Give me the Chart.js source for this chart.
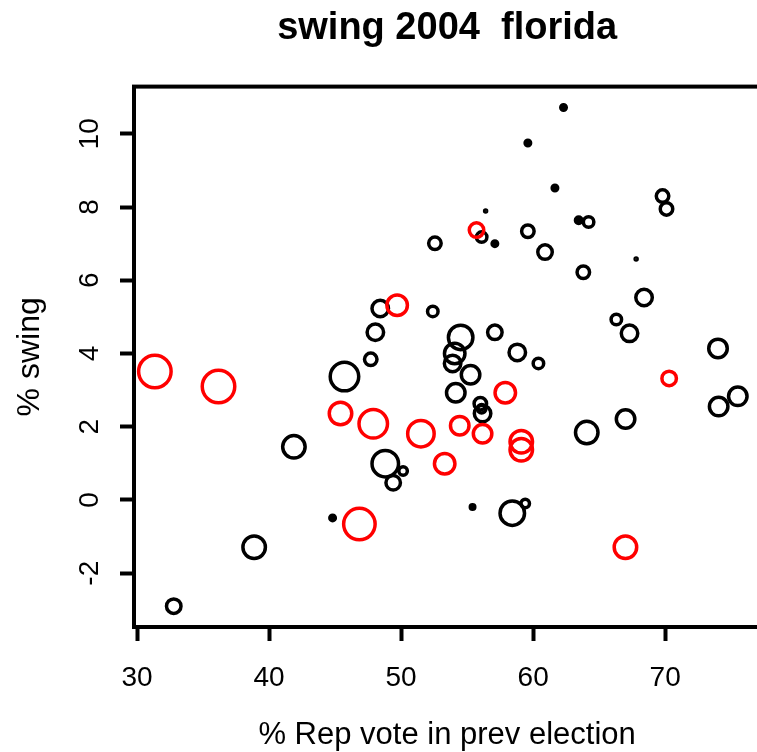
<!DOCTYPE html>
<html>
<head>
<meta charset="utf-8">
<title>swing 2004 florida</title>
<script src="https://cdn.jsdelivr.net/npm/chart.js@4.4.1/dist/chart.umd.min.js"></script>
<style>
  html, body { margin: 0; padding: 0; background: #fff; overflow: hidden; }
</style>
</head>
<body>
<canvas id="chart" width="780" height="752"></canvas>
<script>
// counties, black group: % Rep vote in previous election, % swing, relative county size
const blackVote = [62.3, 59.6, 61.65, 69.8, 70.1, 56.4, 56.1, 57.1, 59.6, 60.9, 63.45, 64.2, 63.8, 67.8,
  68.4, 66.3, 67.3, 74.0, 74.05, 75.5, 67.0, 64.06, 57.1, 58.8, 60.4, 52.56, 52.4, 48.42, 48.05, 47.7,
  45.71, 41.88, 48.8, 50.15, 49.4, 44.81, 38.87, 32.78, 55.41, 58.42, 59.4,
  54.51, 54.06, 53.9, 55.26, 54.14, 56.0, 56.17, 56.1];
const blackSwing = [10.72, 9.75, 8.52, 8.3, 7.95, 7.89, 7.18, 7.0, 7.34, 6.77, 7.64, 7.59, 6.22, 6.58,
  5.53, 4.93, 4.55, 4.14, 2.55, 2.83, 2.21, 1.84, 4.58, 4.03, 3.73, 7.01, 5.15, 5.23, 4.58, 3.84,
  3.37, 1.45, 0.99, 0.79, 0.47, -0.49, -1.29, -2.9, -0.19, -0.36, -0.1,
  4.44, 4.0, 3.73, 3.42, 2.93, 2.63, 2.36, 2.49];
const blackSize = [4.5, 4.5, 4.5, 8, 8, 2.5, 7, 4.5, 8, 9, 5, 7, 8, 2.5,
  10, 7, 10, 11, 11, 11, 11, 13, 9, 10, 7, 8, 7, 10, 10, 8,
  16, 13, 15, 6, 9, 4.5, 13, 9, 4, 14, 6,
  14, 12, 10, 11, 11, 8, 10, 6];

// counties, red group
const redVote = [31.35, 36.17, 45.41, 47.89, 51.5, 53.3, 49.7, 55.71, 70.3, 57.89, 54.44, 56.17, 59.1, 59.1, 46.84, 66.99];
const redSwing = [3.51, 3.1, 2.36, 2.08, 1.81, 0.99, 5.32, 7.37, 3.32, 2.93, 2.03, 1.81, 1.59, 1.37, -0.66, -1.29];
const redSize = [18, 18, 13, 16, 15, 12, 12, 9, 9, 12, 11, 11, 13, 13, 17.5, 13];

const xTicks = [30, 40, 50, 60, 70];
const yTicks = [-2, 0, 2, 4, 6, 8, 10];

const FONT = '"Liberation Sans", Arial, sans-serif';
const LINE = 3.5;

const toPoints = (xs, ys) => xs.map((x, i) => ({ x, y: ys[i] }));

// tiny counties close up into solid dots, like the original
const ringFill = (sizes, color) => ctx => (sizes[ctx.dataIndex] <= 5 ? color : 'rgba(0,0,0,0)');

const boxPlugin = {
  id: 'box',
  afterDraw(chart) {
    const { ctx, chartArea: a } = chart;
    ctx.save();
    ctx.strokeStyle = '#000';
    ctx.lineWidth = 4;
    ctx.strokeRect(a.left, a.top, a.right - a.left, a.bottom - a.top);
    ctx.restore();
  }
};

new Chart(document.getElementById('chart'), {
  type: 'scatter',
  data: {
    datasets: [
      {
        label: 'red',
        data: toPoints(redVote, redSwing),
        borderColor: '#ff0000',
        backgroundColor: ringFill(redSize, '#ff0000'),
        borderWidth: LINE,
        pointRadius: ctx => Math.max(1, redSize[ctx.dataIndex] - LINE / 2)
      },
      {
        label: 'black',
        data: toPoints(blackVote, blackSwing),
        borderColor: '#000000',
        backgroundColor: ringFill(blackSize, '#000000'),
        borderWidth: LINE,
        pointRadius: ctx => Math.max(1, blackSize[ctx.dataIndex] - LINE / 2)
      }
    ]
  },
  options: {
    responsive: false,
    animation: false,
    layout: { padding: { left: 0, right: 15, top: 0, bottom: 0 } },
    plugins: {
      legend: { display: false },
      tooltip: { enabled: false },
      title: {
        display: true,
        text: 'swing 2004  florida',
        fullSize: false,
        color: '#000',
        font: { family: FONT, size: 38, weight: 'bold', lineHeight: 1.2 },
        padding: { top: 6, bottom: 35 }
      }
    },
    scales: {
      x: {
        type: 'linear',
        min: 29.77,
        max: 77.2,
        afterFit: s => { s.height = 125; },
        afterBuildTicks: s => { s.ticks = xTicks.map(v => ({ value: v })); },
        grid: { drawOnChartArea: false, drawTicks: true, tickLength: 14, tickWidth: 4, tickColor: '#000' },
        border: { display: true, width: 4, color: '#000' },
        ticks: { color: '#000', font: { family: FONT, size: 28 }, padding: 20, maxRotation: 0 },
        title: {
          display: true,
          text: '% Rep vote in prev election',
          color: '#000',
          font: { family: FONT, size: 31, lineHeight: 1 },
          padding: { top: 0, bottom: 1 }
        }
      },
      y: {
        type: 'linear',
        min: -3.47,
        max: 11.29,
        afterFit: s => { s.width = 134; },
        afterBuildTicks: s => { s.ticks = yTicks.map(v => ({ value: v })); },
        grid: { drawOnChartArea: false, drawTicks: true, tickLength: 14, tickWidth: 4, tickColor: '#000' },
        border: { display: true, width: 4, color: '#000' },
        ticks: { color: '#000', font: { family: FONT, size: 28 }, padding: 14, minRotation: 90, maxRotation: 90, crossAlign: 'center' },
        title: {
          display: true,
          text: '% swing',
          color: '#000',
          font: { family: FONT, size: 32, lineHeight: 1.2 },
          padding: { top: 11, bottom: 0 }
        }
      }
    }
  },
  plugins: [boxPlugin]
});
</script>
</body>
</html>
